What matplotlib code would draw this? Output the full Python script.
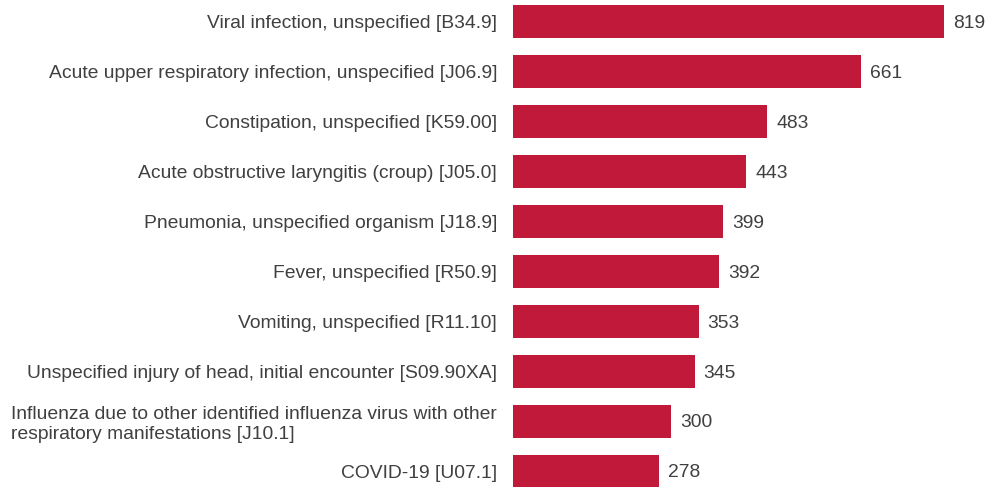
import matplotlib
matplotlib.use("Agg")
import matplotlib.pyplot as plt

categories = [
    "Viral infection, unspecified [B34.9]",
    "Acute upper respiratory infection, unspecified [J06.9]",
    "Constipation, unspecified [K59.00]",
    "Acute obstructive laryngitis (croup) [J05.0]",
    "Pneumonia, unspecified organism [J18.9]",
    "Fever, unspecified [R50.9]",
    "Vomiting, unspecified [R11.10]",
    "Unspecified injury of head, initial encounter [S09.90XA]",
    "Influenza due to other identified influenza virus with other\nrespiratory manifestations [J10.1]",
    "COVID-19 [U07.1]",
]
counts = [819, 661, 483, 443, 399, 392, 353, 345, 300, 278]

plt.rcParams["font.family"] = ["Liberation Sans", "DejaVu Sans"]
bar_color = "#C0193A"
text_color = "#404040"

fig = plt.figure(figsize=(9.9, 4.87), dpi=100)
ax = fig.add_axes([513 / 990, 0.0, (976 - 513) / 990, 1.0])

ypos = list(range(len(categories)))
ax.barh(ypos, counts, height=0.66, color=bar_color)

ax.set_xlim(0, 880)
ax.set_ylim(9.32, -0.42)

ax.set_yticks(ypos)
ax.set_yticklabels(categories, fontsize=13.9, color=text_color)
for lbl in ax.get_yticklabels():
    lbl.set_multialignment("left")
ax.tick_params(axis="y", length=0, pad=11.5)
ax.set_xticks([])

for y, v in zip(ypos, counts):
    ax.text(v + 17, y + 0.04, f"{v}", va="center", ha="left",
            fontsize=13.9, color=text_color)

for s in ax.spines.values():
    s.set_visible(False)

fig.savefig("out.png", dpi=100)
